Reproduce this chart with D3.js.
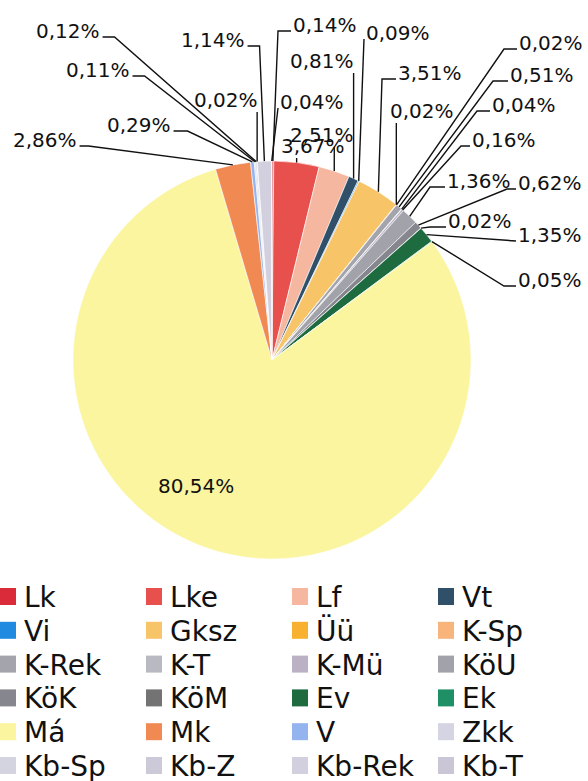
<!DOCTYPE html>
<html lang="hu">

<head>
    <meta charset="UTF-8">
    <title>Megoszlás</title>
    <script src="https://d3js.org/d3.v7.min.js"></script>
    <style>
        html, body {
            margin: 0;
            padding: 0;
            background: #fff;
        }
        svg {
            display: block;
        }
    </style>
</head>

<body>
    <svg width="588" height="781"></svg>
    <script>
        // categories in legend / slice order
        var categories = ["Lk", "Lke", "Lf", "Vt", "Vi", "Gksz", "Üü", "K-Sp",
            "K-Rek", "K-T", "K-Mü", "KöU", "KöK", "KöM", "Ev", "Ek",
            "Má", "Mk", "V", "Zkk", "Kb-Sp", "Kb-Z", "Kb-Rek", "Kb-T"];

        // percent share of each category
        var shares = [0.14, 3.67, 2.51, 0.81, 0.09, 3.51, 0.02, 0.02,
            0.51, 0.04, 0.16, 1.36, 0.62, 0.02, 1.35, 0.05,
            80.54, 2.86, 0.29, 0.11, 0.12, 0.02, 1.14, 0.04];

        var colors = ["#d92b3a", "#e8504e", "#f5b7a0", "#2f5068", "#1f8ae0", "#f8c468", "#f8b030", "#f8b47a",
            "#a4a4ac", "#b9b9c1", "#bab2c4", "#a2a2aa", "#86868e", "#737373", "#1f6b40", "#1f8f66",
            "#faf59e", "#f08a52", "#94b4f0", "#d4d4e2", "#d4d4e0", "#cccad8", "#d2d0de", "#cac6d6"];

        // where each data label was dragged to (text x, baseline y, leader kind, stub length)
        var labelPlaces = [
            [293, 32, "left", 13], [281, 153, "below", 0], [290, 142, "below", 0], [290, 68, "below", 0],
            [366, 40, "left", 0], [398, 80, "left", 14], [390, 118, "below", 0], [519, 50, "left", 13],
            [510, 82, "left", 15], [492, 112, "left", 13], [472, 147, "left", 9], [447, 188, "left", 15],
            [518, 190, "left", 9], [448, 228, "left", 16], [518, 242, "left", 0], [518, 287, "left", 12],
            [158, 493, "inside", 0], [13, 147, "right", 9], [107, 132, "right", 14], [66, 77, "right", 12],
            [36, 38, "right", 12], [194, 107, "below", 0], [181, 47, "right", 12], [280, 109, "left", 0]
        ];

        var cx = 272, cy = 360, radius = 199;
        var fmt = d3.format(".2f");

        var svg = d3.select("svg");

        var pie = d3.pie()
            .sort(null)
            .value(function (d) { return d; });
        var arcs = pie(shares);

        var arc = d3.arc()
            .innerRadius(0)
            .outerRadius(radius);

        var chart = svg.append("g")
            .attr("transform", "translate(" + cx + "," + cy + ")");

        chart.selectAll("path")
            .data(arcs)
            .enter()
            .append("path")
            .attr("d", arc)
            .attr("fill", function (d, i) { return colors[i]; })
            .attr("stroke", "#fff")
            .attr("stroke-width", 0.6);

        // labels + leader lines
        var labelG = svg.append("g")
            .attr("font-family", "DejaVu Sans, sans-serif")
            .attr("font-size", 20)
            .attr("fill", "#111");
        var leaderG = svg.append("g")
            .attr("fill", "none")
            .attr("stroke", "#111")
            .attr("stroke-width", 1.4);

        arcs.forEach(function (a, i) {
            var place = labelPlaces[i];
            var txt = labelG.append("text")
                .attr("x", place[0])
                .attr("y", place[1])
                .text(fmt(shares[i]).replace(".", ",") + "%");
            if (place[2] == "inside") return;

            var w = txt.node().getComputedTextLength();
            var mid = (a.startAngle + a.endAngle) / 2;
            var px = cx + radius * Math.sin(mid),
                py = cy - radius * Math.cos(mid);
            var pts = [];
            if (place[2] == "left") {
                pts.push([place[0] - 2, place[1] - 1]);
                if (place[3]) pts.push([place[0] - 2 - place[3], place[1] - 1]);
            } else if (place[2] == "right") {
                pts.push([place[0] + w + 3, place[1] - 1]);
                if (place[3]) pts.push([place[0] + w + 3 + place[3], place[1] - 1]);
            } else {
                pts.push([px, place[1] + 5]);
            }
            pts.push([px, py]);
            leaderG.append("path").attr("d", d3.line()(pts));
        });

        // legend, 4 columns
        var legend = svg.append("g")
            .attr("font-family", "DejaVu Sans, sans-serif")
            .attr("font-size", 28)
            .attr("fill", "#111");

        var item = legend.selectAll("g")
            .data(categories)
            .enter()
            .append("g")
            .attr("transform", function (d, i) {
                return "translate(" + (i % 4) * 146 + "," + (607 + Math.floor(i / 4) * 33.8) + ")";
            });
        item.append("rect")
            .attr("x", 0)
            .attr("y", -19)
            .attr("width", 16)
            .attr("height", 17)
            .attr("fill", function (d, i) { return colors[i]; });
        item.append("text")
            .attr("x", 24)
            .attr("y", 0)
            .text(function (d) { return d; });
    </script>
</body>

</html>
